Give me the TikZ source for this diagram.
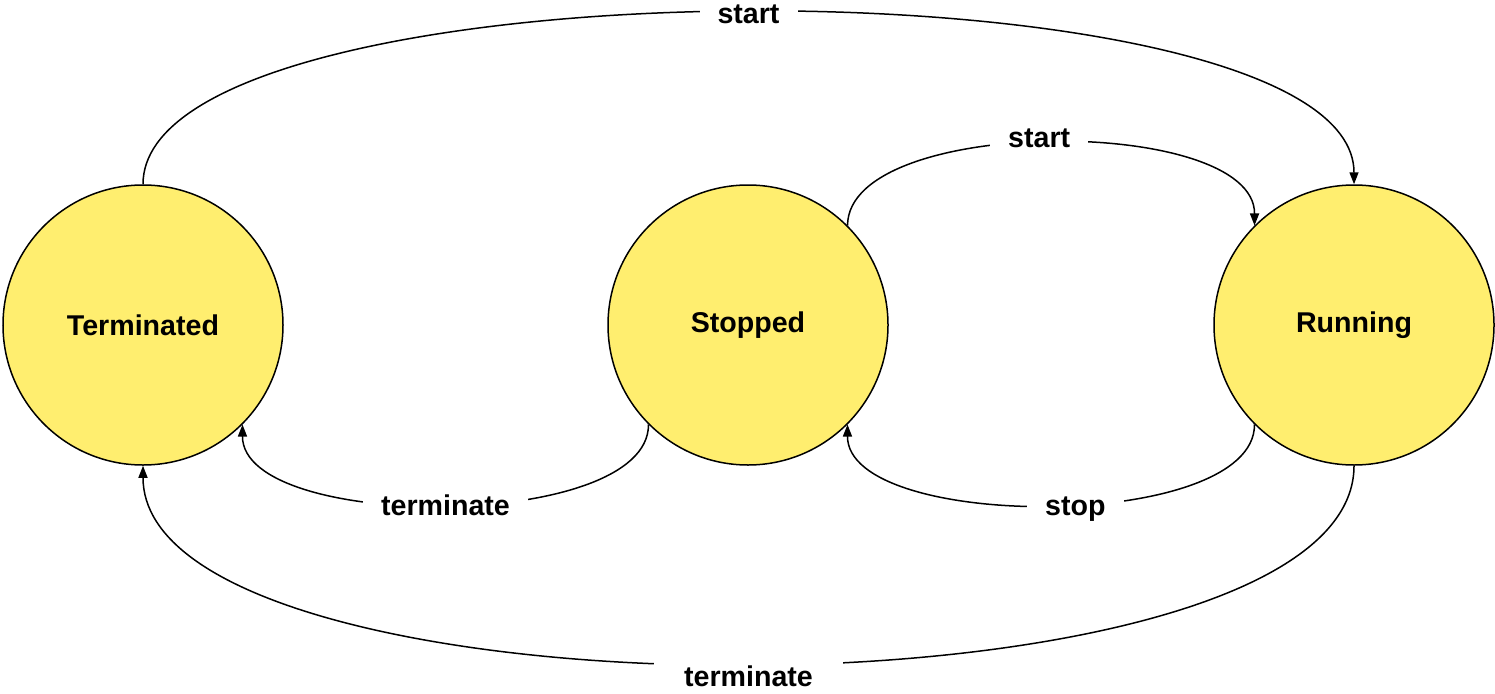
\documentclass[tikz,border=0pt]{standalone}
\usepackage{fontspec}
\setmainfont{Liberation Sans}
\usetikzlibrary{arrows.meta}
\definecolor{stfill}{HTML}{FFEE6F}
\tikzset{
  state/.style={circle, draw=black, line width=1.5pt, fill=stfill, minimum size=280pt, inner sep=0pt, font=\fontsize{28.6}{32}\selectfont\bfseries},
  conn/.style={line width=1.5pt, -{Triangle[length=12pt,width=9pt]}},
  lbl/.style={fill=white, inner xsep=18pt, inner ysep=2pt, font=\fontsize{28.6}{32}\selectfont\bfseries}
}
\begin{document}
\begin{tikzpicture}[x=1pt, y=-1pt]
\useasboundingbox (0,0) rectangle (1495,693);
\node[state] (T) at (143,325) {Terminated};
\node[state] (S) at (748,325) {Stopped};
\node[state] (R) at (1354,325) {Running};
\draw[conn] (T.90) .. controls (143,-45) and (1354,-45) .. node[lbl, pos=0.5, yshift=-2pt] (l1) {start} (R.90);
\draw[conn] (S.45) .. controls (848,115) and (1255,115) .. node[lbl, pos=0.48, yshift=4pt] (l2) {start} (R.135);
\draw[conn] (S.-135) .. controls (649,532) and (242,532) .. node[lbl, pos=0.5] (l3) {terminate} (T.-45);
\draw[conn] (R.-135) .. controls (1255,532) and (847,532) .. node[lbl, pos=0.46, yshift=-5pt] (l4) {stop} (S.-45);
\draw[conn] (R.-90) .. controls (1354,730) and (143,730) .. node[lbl, pos=0.5, yshift=-12pt, inner ysep=13pt, inner xsep=30pt] (l5) {terminate} (T.-90);
\end{tikzpicture}
\end{document}
